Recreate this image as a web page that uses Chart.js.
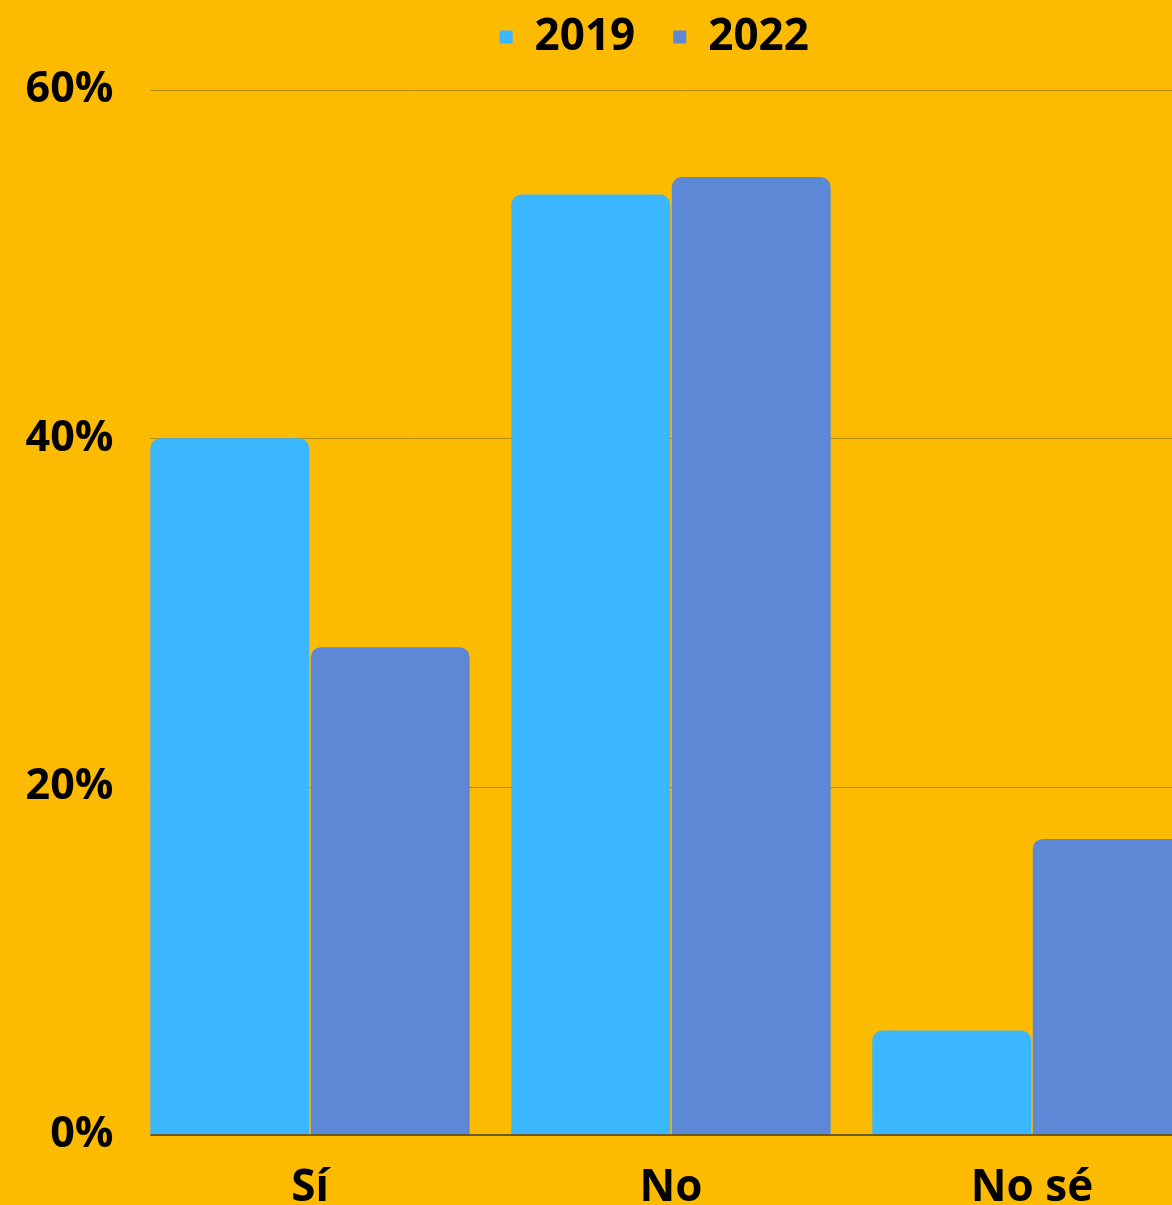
<!DOCTYPE html>
<html>
<head>
<meta charset="utf-8">
<script src="https://cdn.jsdelivr.net/npm/chart.js@4"></script>
<style>
  html, body { margin: 0; padding: 0; background: #FCBA00; overflow: hidden; }
  #wrap { width: 1300px; height: 1300px; }
</style>
</head>
<body>
<div id="wrap"><canvas id="myChart" width="1300" height="1300"></canvas></div>
<script>
// DATA
const categories = ['Sí', 'No', 'No sé'];
const series2019 = [40, 54, 6];
const series2022 = [28, 55, 17];
const yMax = 60;
const yStep = 20;

// COLORS
const bgColor = '#FCBA00';
const color2019 = '#3AB7FF';
const color2022 = '#5D88D6';

Chart.defaults.font.family = "'Open Sans', 'Noto Sans', sans-serif";
Chart.defaults.font.weight = 'bold';
Chart.defaults.color = '#000';

// grid lines start at the first bar, baseline on top of the bars
const gridPlugin = {
    id: 'gridPlugin',
    beforeInit(chart) {
        // more room under the legend
        const origFit = chart.legend.fit;
        chart.legend.fit = function () {
            origFit.bind(chart.legend)();
            this.height = 113;
        };
    },
    afterLayout(chart) {
        // legend is centred on the visible part of the chart
        chart.legend.left = 96;
    },
    beforeDatasetsDraw(chart) {
        const ctx = chart.ctx;
        const y = chart.scales.y;
        const first = chart.getDatasetMeta(0).data[0];
        const left = first.x - first.width / 2;
        ctx.save();
        ctx.strokeStyle = '#B5890A';
        ctx.lineWidth = 1;
        y.ticks.forEach(t => {
            if (t.value === 0) return;
            const py = Math.round(y.getPixelForValue(t.value)) + 0.5;
            ctx.beginPath();
            ctx.moveTo(left, py);
            ctx.lineTo(chart.chartArea.right, py);
            ctx.stroke();
        });
        ctx.restore();
    },
    afterDatasetsDraw(chart) {
        const ctx = chart.ctx;
        const y = chart.scales.y;
        const first = chart.getDatasetMeta(0).data[0];
        const left = first.x - first.width / 2;
        const py = y.getPixelForValue(0);
        ctx.save();
        ctx.strokeStyle = '#6B5A2C';
        ctx.lineWidth = 2;
        ctx.beginPath();
        ctx.moveTo(left, py);
        ctx.lineTo(chart.chartArea.right, py);
        ctx.stroke();
        ctx.restore();
    }
};

const ctx = document.getElementById('myChart').getContext('2d');
const myChart = new Chart(ctx, {
    type: 'bar',
    data: {
        labels: categories,
        datasets: [{
                label: '2019',
                data: series2019,
                backgroundColor: color2019,
                borderRadius: 10,
                borderSkipped: 'start'
            },
            {
                label: '2022',
                data: series2022,
                backgroundColor: color2022,
                borderRadius: 10,
                borderSkipped: 'start'
            }
        ]
    },
    options: {
        responsive: false,
        animation: false,
        layout: {
            padding: { top: -23, left: 0, right: 87.5, bottom: 0 }
        },
        datasets: {
            bar: { categoryPercentage: 0.889, barPercentage: 0.99 }
        },
        plugins: {
            legend: {
                position: 'top',
                labels: {
                    boxWidth: 13,
                    boxHeight: 13,
                    padding: 38,
                    color: '#000',
                    font: { size: 44, weight: 'bold' }
                }
            },
            tooltip: { enabled: false }
        },
        scales: {
            x: {
                grid: { display: false },
                border: { display: false },
                ticks: {
                    padding: 19,
                    color: '#000',
                    font: { size: 44, weight: 'bold' }
                },
                afterFit(scale) { scale.height = 165; }
            },
            y: {
                min: 0,
                max: yMax,
                grid: { display: false },
                border: { display: false },
                ticks: {
                    stepSize: yStep,
                    padding: 8,
                    color: '#000',
                    font: { size: 43, weight: 'bold' },
                    callback: v => v + '%'
                },
                afterFit(scale) { scale.width = 129.5; }
            }
        }
    },
    plugins: [gridPlugin]
});
</script>
</body>
</html>
